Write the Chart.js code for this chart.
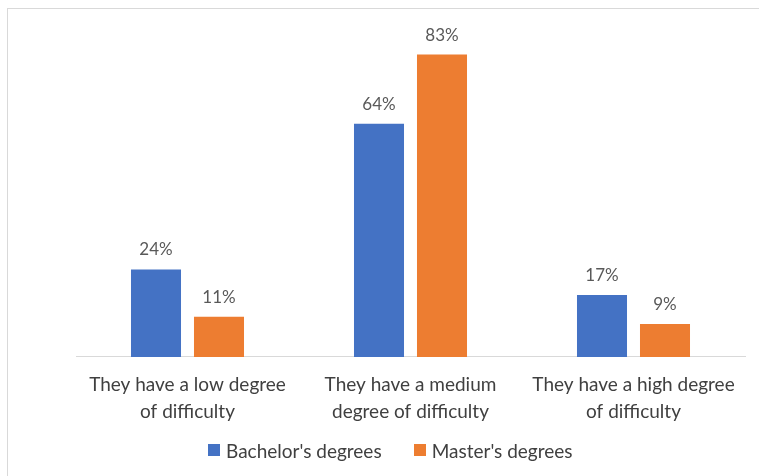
<!DOCTYPE html>
<html>
<head>
<meta charset="utf-8">
<script src="https://cdn.jsdelivr.net/npm/chart.js@4.4.1/dist/chart.umd.min.js"></script>
<style>
  html, body { margin: 0; padding: 0; background: #fff; }
  #wrap { position: relative; width: 759px; height: 476px; overflow: hidden; font-family: Lato, "Open Sans", sans-serif; }
  #frame { position: absolute; left: 7px; top: 8px; width: 800px; height: 520px; border: 1px solid #d9d9d9; }
  #c { position: absolute; left: 0; top: 0; }
  #legend { position: absolute; left: 208px; top: 438px; height: 24px; display: flex; align-items: center; font-size: 19px; color: #404040; white-space: nowrap; }
  #legend .item { display: flex; align-items: center; margin-right: 32px; }
  #legend .sw { width: 12px; height: 12px; margin-right: 6px; }
</style>
</head>
<body>
<div id="wrap">
  <div id="frame"></div>
  <canvas id="c" width="759" height="476"></canvas>
  <div id="legend"></div>
</div>
<script>
const categories = [
  ['They have a low degree', 'of difficulty'],
  ['They have a medium', 'degree of difficulty'],
  ['They have a high degree', 'of difficulty']
];
const bachelor = [24, 64, 17];
const master = [11, 83, 9];

const FONT = 'Lato, "Open Sans", sans-serif';

// value labels above each bar
const barLabels = {
  id: 'barLabels',
  afterDatasetsDraw(chart) {
    const ctx = chart.ctx;
    ctx.save();
    ctx.font = '17px ' + FONT;
    ctx.fillStyle = '#595959';
    ctx.textAlign = 'center';
    ctx.textBaseline = 'alphabetic';
    chart.data.datasets.forEach((ds, i) => {
      chart.getDatasetMeta(i).data.forEach((bar, j) => {
        ctx.fillText(ds.data[j] + '%', bar.x, bar.y - 14);
      });
    });
    ctx.restore();
  }
};

const chart = new Chart(document.getElementById('c'), {
  type: 'bar',
  data: {
    labels: categories,
    datasets: [
      { label: "Bachelor's degrees", data: bachelor, backgroundColor: '#4472c4' },
      { label: "Master's degrees", data: master, backgroundColor: '#ed7d31' }
    ]
  },
  options: {
    responsive: false,
    animation: false,
    layout: { padding: { left: 76, right: 14, top: 29, bottom: 36 } },
    datasets: { bar: { categoryPercentage: 0.565, barPercentage: 0.794 } },
    scales: {
      x: {
        grid: { display: false, drawTicks: false },
        border: { color: '#d9d9d9', width: 1 },
        ticks: { color: '#404040', font: { family: FONT, size: 19, lineHeight: 1.45 }, padding: 14, maxRotation: 0 }
      },
      y: { display: false, min: 0, max: 90 }
    },
    plugins: {
      legend: { display: false },
      tooltip: { enabled: false }
    }
  },
  plugins: [barLabels]
});

// html legend built from the chart's datasets
document.getElementById('legend').innerHTML = chart.data.datasets.map(ds =>
  `<span class="item"><span class="sw" style="background:${ds.backgroundColor}"></span>${ds.label}</span>`
).join('');
</script>
</body>
</html>
